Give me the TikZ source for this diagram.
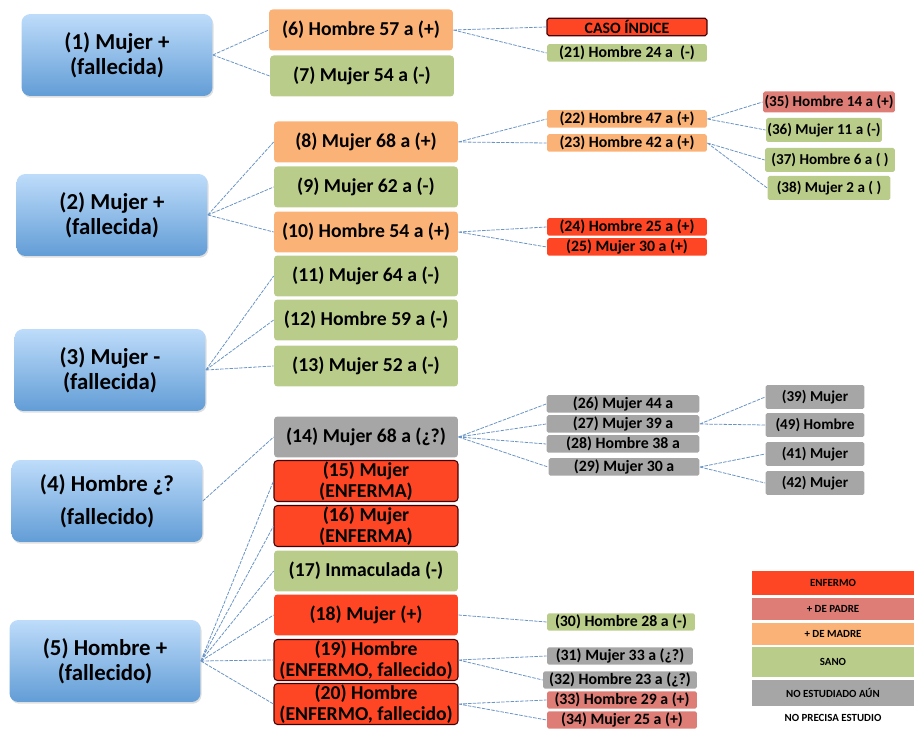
\documentclass[tikz,border=0pt]{standalone}
\usepackage{fontspec}
\setmainfont{Carlito}
\usetikzlibrary{shadows}

\definecolor{colAzulA}{RGB}{190,220,250}
\definecolor{colAzulB}{RGB}{98,157,214}
\definecolor{colMadre}{RGB}{250,178,118}
\definecolor{colSano}{RGB}{186,204,138}
\definecolor{colEnfermo}{RGB}{255,70,36}
\definecolor{colPadre}{RGB}{222,124,118}
\definecolor{colGris}{RGB}{166,166,166}
\definecolor{colLinea}{RGB}{105,148,198}

\begin{document}
\begin{tikzpicture}[x=0.02cm,y=-0.02cm,
  azul/.style={rounded corners=5pt, top color=colAzulA, bottom color=colAzulB, minimum width=3.82cm, minimum height=1.64cm, inner sep=0pt, align=center, font=\bfseries\fontsize{13}{14}\selectfont, drop shadow={opacity=0.25,shadow xshift=0.6pt,shadow yshift=-1pt}},
  hijo/.style={rounded corners=2pt, minimum width=3.68cm, minimum height=0.82cm, inner sep=0pt, align=center, font=\bfseries\fontsize{11.2}{12.3}\selectfont},
  nieto/.style={rounded corners=1pt, minimum width=3.2cm, minimum height=0.35cm, inner sep=0pt, font=\bfseries\fontsize{9}{9}\selectfont},
  bisnieto/.style={rounded corners=1pt, minimum width=2.64cm, minimum height=0.48cm, inner sep=0pt, font=\bfseries\fontsize{8.6}{9}\selectfont},
  borde/.style={draw=black!75!red, line width=0.6pt},
  leyenda/.style={minimum width=3.26cm, inner sep=0pt, font=\bfseries\fontsize{6.2}{7}\selectfont},
  enlace/.style={colLinea, line width=0.45pt, dash pattern=on 2pt off 0.7pt}
]
\useasboundingbox (0,0) rectangle (917,729);

% primera generacion
\node[azul] (n1) at (117,55) {(1) Mujer +\\(fallecida)};
\node[azul] (n2) at (112,215) {(2) Mujer +\\(fallecida)};
\node[azul] (n3) at (110,370) {(3) Mujer -\\(fallecida)};
\node[azul] (n4) at (107,501) {(4) Hombre ¿?\\[5pt](fallecido)};
\node[azul] (n5) at (105,661) {(5) Hombre +\\(fallecido)};

% segunda generacion
\node[hijo, fill=colMadre] (n6) at (361,30) {(6) Hombre 57 a (+)};
\node[hijo, fill=colSano] (n7) at (362,76) {(7) Mujer 54 a (-)};
\node[hijo, fill=colMadre] (n8) at (366,142) {(8) Mujer 68 a (+)};
\node[hijo, fill=colSano] (n9) at (366,187) {(9) Mujer 62 a (-)};
\node[hijo, fill=colMadre] (n10) at (366,232) {(10) Hombre 54 a (+)};
\node[hijo, fill=colSano] (n11) at (366,276) {(11) Mujer 64 a (-)};
\node[hijo, fill=colSano] (n12) at (366,320) {(12) Hombre 59 a (-)};
\node[hijo, fill=colSano] (n13) at (366,366) {(13) Mujer 52 a (-)};
\node[hijo, fill=colGris] (n14) at (366,437) {(14) Mujer 68 a (¿?)};
\node[hijo, borde, fill=colEnfermo] (n15) at (366,481) {(15) Mujer\\(ENFERMA)};
\node[hijo, borde, fill=colEnfermo] (n16) at (366,526) {(16) Mujer\\(ENFERMA)};
\node[hijo, fill=colSano] (n17) at (366,571) {(17) Inmaculada (-)};
\node[hijo, fill=colEnfermo] (n18) at (366,615) {(18) Mujer (+)};
\node[hijo, borde, fill=colEnfermo] (n19) at (366,660) {(19) Hombre\\(ENFERMO, fallecido)};
\node[hijo, borde, fill=colEnfermo] (n20) at (366,704) {(20) Hombre\\(ENFERMO, fallecido)};

% tercera generacion
\node[nieto, borde, fill=colEnfermo] (caso) at (627,27) {CASO ÍNDICE};
\node[nieto, fill=colSano] (n21) at (627,53) {(21) Hombre 24 a \ (-)};
\node[nieto, fill=colMadre] (n22) at (627,119) {(22) Hombre 47 a (+)};
\node[nieto, fill=colMadre] (n23) at (627,143) {(23) Hombre 42 a (+)};
\node[nieto, fill=colEnfermo] (n24) at (627,227) {(24) Hombre 25 a (+)};
\node[nieto, fill=colEnfermo] (n25) at (627,247) {(25) Mujer 30 a (+)};
\node[nieto, fill=colGris, minimum width=3.06cm] (n26) at (623,404) {(26) Mujer 44 a};
\node[nieto, fill=colGris, minimum width=3.06cm] (n27) at (623,424) {(27) Mujer 39 a};
\node[nieto, fill=colGris, minimum width=3.06cm] (n28) at (623,444) {(28) Hombre 38 a};
\node[nieto, fill=colGris, minimum width=3.02cm] (n29) at (624,467) {(29) Mujer 30 a};
\node[nieto, fill=colSano, minimum width=2.96cm] (n30) at (621,622) {(30) Hombre 28 a (-)};
\node[nieto, fill=colGris, minimum width=2.92cm] (n31) at (620,656) {(31) Mujer 33 a (¿?)};
\node[nieto, fill=colGris, minimum width=3.08cm] (n32) at (620,680) {(32) Hombre 23 a (¿?)};
\node[nieto, fill=colPadre, minimum width=3cm] (n33) at (622,700) {(33) Hombre 29 a (+)};
\node[nieto, fill=colPadre, minimum width=3cm] (n34) at (622,720) {(34) Mujer 25 a (+)};

% cuarta generacion
\node[bisnieto, fill=colPadre, minimum height=0.42cm] (n35) at (829,102) {(35) Hombre 14 a (+)};
\node[bisnieto, fill=colSano, minimum width=2.32cm] (n36) at (824,130) {(36) Mujer 11 a (-)};
\node[bisnieto, fill=colSano, minimum width=2.6cm] (n37) at (830,160) {(37) Hombre 6 a ( )};
\node[bisnieto, fill=colSano, minimum width=2.46cm] (n38) at (829,188) {(38) Mujer 2 a ( )};
\node[bisnieto, fill=colGris, minimum width=1.98cm] (n39) at (815,397) {(39) Mujer};
\node[bisnieto, fill=colGris, minimum width=1.98cm] (n49) at (815,425) {(49) Hombre};
\node[bisnieto, fill=colGris, minimum width=1.98cm] (n41) at (815,454) {(41) Mujer};
\node[bisnieto, fill=colGris, minimum width=1.98cm] (n42) at (815,483) {(42) Mujer};

% leyenda
\node[leyenda, fill=colEnfermo, minimum height=0.5cm] (l1) at (833,583) {ENFERMO};
\node[leyenda, fill=colPadre, minimum height=0.44cm] (l2) at (833,609) {+ DE PADRE};
\node[leyenda, fill=colMadre, minimum height=0.46cm] (l3) at (833,634) {+ DE MADRE};
\node[leyenda, fill=colSano, minimum height=0.62cm] (l4) at (833,662) {SANO};
\node[leyenda, fill=colGris, minimum height=0.52cm] (l5) at (833,693) {NO ESTUDIADO AÚN};
\node[leyenda] (l6) at (833,718) {NO PRECISA ESTUDIO};

% enlaces
\draw[enlace] (n1.east) -- (n6.west) (n1.east) -- (n7.west);
\draw[enlace] (n2.east) -- (n8.west) (n2.east) -- (n9.west) (n2.east) -- (n10.west);
\draw[enlace] (n3.east) -- (n11.west) (n3.east) -- (n12.west) (n3.east) -- (n13.west);
\draw[enlace] (n4.east) -- (n14.west);
\draw[enlace] (n5.east) -- (n15.west) (n5.east) -- (n16.west) (n5.east) -- (n17.west);
\draw[enlace] (n5.east) -- (n18.west) (n5.east) -- (n19.west) (n5.east) -- (n20.west);

\draw[enlace] (n6.east) -- (caso.west) (n6.east) -- (n21.west);
\draw[enlace] (n8.east) -- (n22.west) (n8.east) -- (n23.west);
\draw[enlace] (n10.east) -- (n24.west) (n10.east) -- (n25.west);
\draw[enlace] (n14.east) -- (n26.west) (n14.east) -- (n27.west) (n14.east) -- (n28.west) (n14.east) -- (n29.west);
\draw[enlace] (n18.east) -- (n30.west);
\draw[enlace] (n19.east) -- (n31.west) (n19.east) -- (n32.west);
\draw[enlace] (n20.east) -- (n33.west) (n20.east) -- (n34.west);

\draw[enlace] (n22.east) -- (n35.west) (n22.east) -- (n36.west);
\draw[enlace] (n23.east) -- (n37.west) (n23.east) -- (n38.west);
\draw[enlace] (n27.east) -- (n39.west) (n27.east) -- (n49.west);
\draw[enlace] (n29.east) -- (n41.west) (n29.east) -- (n42.west);

\end{tikzpicture}
\end{document}
